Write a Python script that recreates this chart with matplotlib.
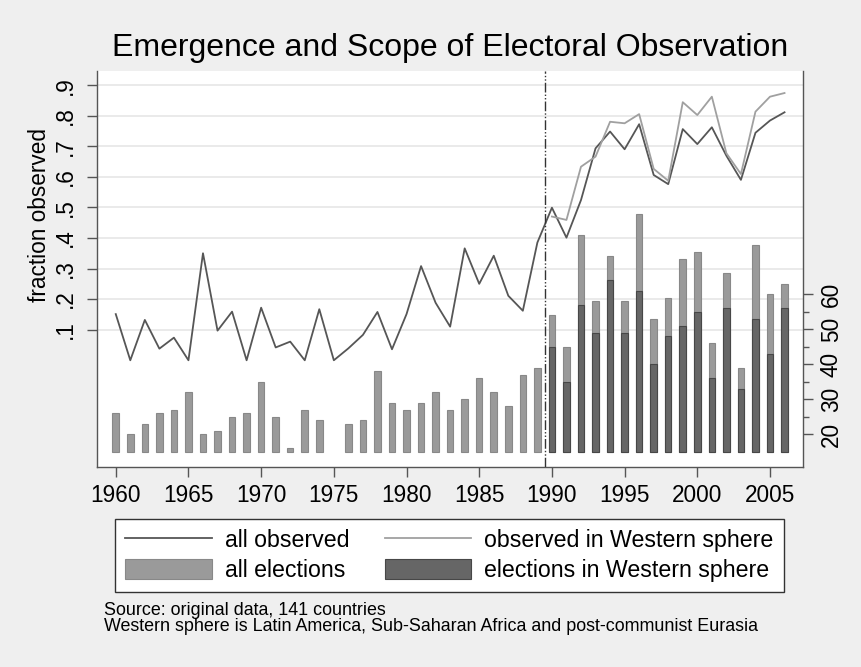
import numpy as np
import matplotlib.pyplot as plt
from matplotlib.lines import Line2D
from matplotlib.patches import Patch

plt.rcParams['font.family'] = ['Liberation Sans', 'DejaVu Sans']

# fraction of elections observed, all countries, 1960-2006
years = list(range(1960, 2007))
all_observed = [0.151, 0.0, 0.132, 0.038, 0.074, 0.0, 0.350, 0.097, 0.159, 0.0,
                0.172, 0.042, 0.061, 0.0, 0.167, 0.0, 0.039, 0.083, 0.158, 0.036,
                0.151, 0.308, 0.188, 0.110, 0.366, 0.250, 0.342, 0.211, 0.162, 0.385,
                0.499, 0.401, 0.524, 0.693, 0.748, 0.690, 0.772, 0.606, 0.576, 0.756,
                0.707, 0.762, 0.669, 0.590, 0.744, 0.784, 0.811]

# fraction observed in the Western sphere, 1990-2006
west_years = list(range(1990, 2007))
west_observed = [0.470, 0.459, 0.633, 0.666, 0.780, 0.775, 0.805, 0.626, 0.587, 0.844,
                 0.802, 0.862, 0.677, 0.609, 0.813, 0.862, 0.874]

# number of elections per year (no bar for 1975)
all_elections = [26, 20, 23, 26, 27, 32, 20, 21, 25, 26,
                 35, 25, 16, 27, 24, None, 23, 24, 38, 29,
                 27, 29, 32, 27, 30, 36, 32, 28, 37, 39,
                 54, 45, 77, 58, 71, 58, 83, 53, 59, 70,
                 72, 46, 66, 39, 74, 60, 63]
west_elections = [45, 35, 57, 49, 64, 49, 61, 40, 48, 51,
                  55, 36, 56, 33, 53, 43, 56]

frac_ticks = [0.1, 0.2, 0.3, 0.4, 0.5, 0.6, 0.7, 0.8, 0.9]
frac_labels = ['.1', '.2', '.3', '.4', '.5', '.6', '.7', '.8', '.9']
count_ticks = [20, 30, 40, 50, 60]
year_ticks = [1960, 1965, 1970, 1975, 1980, 1985, 1990, 1995, 2000, 2005]

bar_base = 15
dark_line = '#565656'
light_line = '#a0a0a0'
light_bar = '#9a9a9a'
dark_bar = '#666666'
axis_col = '#555555'

fig = plt.figure(figsize=(8.62, 6.67), dpi=100, facecolor='#efefef')
ax_cnt = fig.add_axes([97 / 862, 1 - 466.7 / 667, 706 / 862, 395.7 / 667])
ax_frac = ax_cnt.twinx()
ax_cnt.yaxis.tick_right()
ax_cnt.yaxis.set_label_position('right')
ax_frac.yaxis.tick_left()
ax_frac.yaxis.set_label_position('left')
ax_cnt.set_facecolor('white')

# gridlines sit behind the bars but follow the fraction scale
for f in frac_ticks:
    ax_cnt.plot([0, 1], [f, f], transform=ax_frac.get_yaxis_transform(),
                color='#e8e8e8', lw=1.3, zorder=0)

bar_years = [y for y, v in zip(years, all_elections) if v is not None]
bar_vals = [v for v in all_elections if v is not None]
ax_cnt.bar(bar_years, np.array(bar_vals) - bar_base, bottom=bar_base, width=0.45,
           color=light_bar, edgecolor='#888888', linewidth=0.8, zorder=2)
ax_cnt.bar(west_years, np.array(west_elections) - bar_base, bottom=bar_base, width=0.45,
           color=dark_bar, edgecolor='#474747', linewidth=0.8, zorder=3)

ax_frac.plot(years, all_observed, color=dark_line, lw=1.3, zorder=3)
ax_frac.plot(west_years, west_observed, color=light_line, lw=1.3, zorder=4)
ax_frac.axvline(1989.5, color='#333333', lw=1.0, dashes=(7, 1.5, 1, 1.5, 1, 1.5), zorder=5)

ax_cnt.set_xlim(1958.71, 2007.27)
ax_cnt.set_ylim(10.74, 123.8)
ax_frac.set_ylim(-0.348, 0.946)

ax_cnt.spines['top'].set_visible(False)
for s in ax_frac.spines.values():
    s.set_visible(False)
for s in ['left', 'bottom', 'right']:
    ax_cnt.spines[s].set_color(axis_col)
    ax_cnt.spines[s].set_linewidth(1.0)

ax_cnt.set_xticks(year_ticks)
ax_cnt.set_xticklabels([str(y) for y in year_ticks])
ax_cnt.tick_params(axis='x', length=7.2, width=1, color=axis_col, labelsize=16.3, pad=5)

ax_cnt.set_yticks(count_ticks)
ax_cnt.set_yticks([25, 35, 45, 55], minor=True)
ax_cnt.tick_params(axis='y', which='major', length=7.2, width=1, color=axis_col,
                   labelsize=16.3, labelrotation=90, pad=5)
ax_cnt.tick_params(axis='y', which='minor', length=4, width=1, color=axis_col)
for lab in ax_cnt.get_yticklabels():
    lab.set_va('center')

ax_frac.set_yticks(frac_ticks)
ax_frac.set_yticklabels(frac_labels)
ax_frac.tick_params(axis='y', length=7.2, width=1, color=axis_col,
                    labelsize=16.3, labelrotation=90, pad=7)
for lab in ax_frac.get_yticklabels():
    lab.set_va('center')
ax_frac.set_ylabel('fraction observed', fontsize=16.3, va='center')
ax_frac.yaxis.set_label_coords(-0.081, 0.636)

fig.text(450 / 862, 1 - 48 / 667, 'Emergence and Scope of Electoral Observation',
         fontsize=23, ha='center', va='center')

handles = [Line2D([], [], color=dark_line, lw=1.3),
           Patch(facecolor=light_bar, edgecolor='#888888', linewidth=0.8),
           Line2D([], [], color=light_line, lw=1.3),
           Patch(facecolor=dark_bar, edgecolor='#474747', linewidth=0.8)]
labels = ['all observed', 'all elections', 'observed in Western sphere',
          'elections in Western sphere']
leg = fig.legend(handles, labels, ncol=2, loc='center',
                 bbox_to_anchor=(449.5 / 862, 1 - 555.5 / 667), fontsize=16.7,
                 handlelength=3.75, handleheight=0.95, handletextpad=0.55,
                 columnspacing=1.5, labelspacing=0.28, borderpad=0.45,
                 fancybox=False, framealpha=1, edgecolor='#333333')
leg.get_frame().set_linewidth(1.0)

fig.text(104 / 862, 1 - 615 / 667, 'Source: original data, 141 countries',
         fontsize=12.9, va='baseline')
fig.text(104 / 862, 1 - 631 / 667,
         'Western sphere is Latin America, Sub-Saharan Africa and post-communist Eurasia',
         fontsize=12.9, va='baseline')

fig.savefig('out.png', dpi=100, facecolor=fig.get_facecolor())
